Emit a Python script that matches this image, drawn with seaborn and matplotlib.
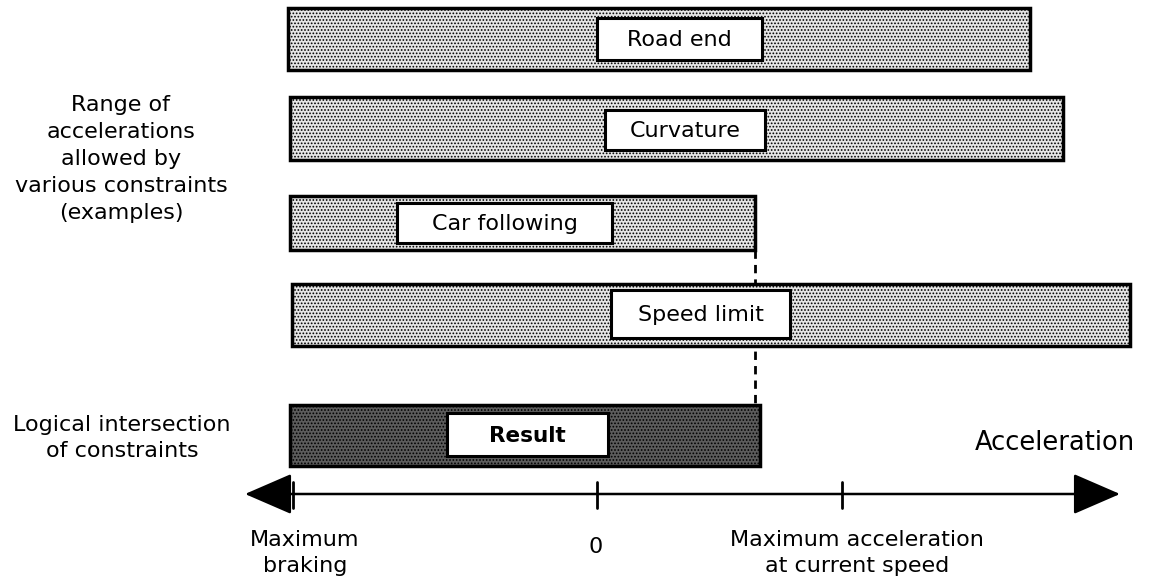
import numpy as np
import pandas as pd
import seaborn as sns
import matplotlib.pyplot as plt
from matplotlib.patches import Rectangle, FancyArrowPatch

# data: acceleration ranges (1 unit ~ 100 px), 0 = no acceleration
constraints = ['Road end', 'Curvature', 'Car following', 'Speed limit']
range_low = [-3.09, -3.07, -3.07, -3.05]
range_high = [4.33, 4.66, 1.58, 5.33]
result_low = -3.07
result_high = 1.63
tick_values = [-3.04, 0.0, 2.45]
tick_labels = ['Maximum\nbraking', '0', 'Maximum acceleration\nat current speed']

df = pd.DataFrame({'constraint': constraints, 'low': range_low, 'high': range_high})

# layout (pixel rows, label boxes)
row_top = [8, 97, 196, 284]
row_bot = [70, 160, 250, 346]
res_top, res_bot = 405, 466
box_x = [(0.00, 1.65), (0.08, 1.68), (-2.00, 0.15), (0.14, 1.93)]
box_y = [(18, 60), (110, 150), (203, 243), (290, 338)]
res_box_x = (-1.50, 0.11)
res_box_y = (413, 456)
axis_y = 494
tick_label_x = [-2.92, -0.01, 2.60]

sns.set_style('white')
plt.rcParams['font.family'] = ['DejaVu Sans']
plt.rcParams['text.color'] = 'black'
plt.rcParams['hatch.linewidth'] = 0.8

fig = plt.figure(figsize=(11.63, 5.84), dpi=100)
ax = fig.add_axes([0, 0, 1, 1])
ax.set_xlim(-5.97, 5.66)
ax.set_ylim(584, 0)
ax.axis('off')

fs = 16

for i, r in df.iterrows():
    ax.barh((row_top[i] + row_bot[i]) / 2, r['high'] - r['low'], left=r['low'],
            height=row_bot[i] - row_top[i], facecolor='#e6e6e6', edgecolor='black',
            linewidth=2.5, hatch='.....', zorder=2)
    x0, x1 = box_x[i]
    y0, y1 = box_y[i]
    ax.add_patch(Rectangle((x0, y0), x1 - x0, y1 - y0, facecolor='white',
                           edgecolor='black', linewidth=2.2, zorder=3))
    ax.text((x0 + x1) / 2, (y0 + y1) / 2 + 1, r['constraint'], ha='center', va='center',
            fontsize=fs, zorder=4)

# result bar
ax.barh((res_top + res_bot) / 2, result_high - result_low, left=result_low,
        height=res_bot - res_top, facecolor='#5c5c5c', edgecolor='black',
        linewidth=2.5, hatch='.....', zorder=2)
ax.add_patch(Rectangle((res_box_x[0], res_box_y[0]), res_box_x[1] - res_box_x[0],
                       res_box_y[1] - res_box_y[0], facecolor='white',
                       edgecolor='black', linewidth=2.2, zorder=3))
ax.text(sum(res_box_x) / 2, sum(res_box_y) / 2 + 1, 'Result', ha='center', va='center',
        fontsize=15.5, fontweight='bold', zorder=4)

# dashed line from car following limit down to the result
ax.plot([range_high[2], range_high[2]], [row_bot[2], res_top], color='black',
        ls=(0, (3, 2.2)), lw=2, zorder=1)

# acceleration axis
arrow = FancyArrowPatch((-3.52, axis_y), (5.23, axis_y),
                        arrowstyle='<|-|>,head_length=1.5,head_width=0.65',
                        mutation_scale=20, color='black', lw=1.8, shrinkA=0, shrinkB=0)
ax.add_patch(arrow)
for t, tx, lab in zip(tick_values, tick_label_x, tick_labels):
    ax.plot([t, t], [482, 508], color='black', lw=2)
    ax.text(tx, 553 if '\n' in lab else 547, lab,
            ha='center', va='center', fontsize=fs, linespacing=1.38)

ax.text(4.58, 443, 'Acceleration', ha='center', va='center', fontsize=18.5)

ax.text(-4.76, 159, 'Range of\naccelerations\nallowed by\nvarious constraints\n(examples)',
        ha='center', va='center', fontsize=fs, linespacing=1.45)
ax.text(-4.75, 438, 'Logical intersection\nof constraints', ha='center', va='center',
        fontsize=fs, linespacing=1.4)

fig.savefig('out.png', dpi=100)
